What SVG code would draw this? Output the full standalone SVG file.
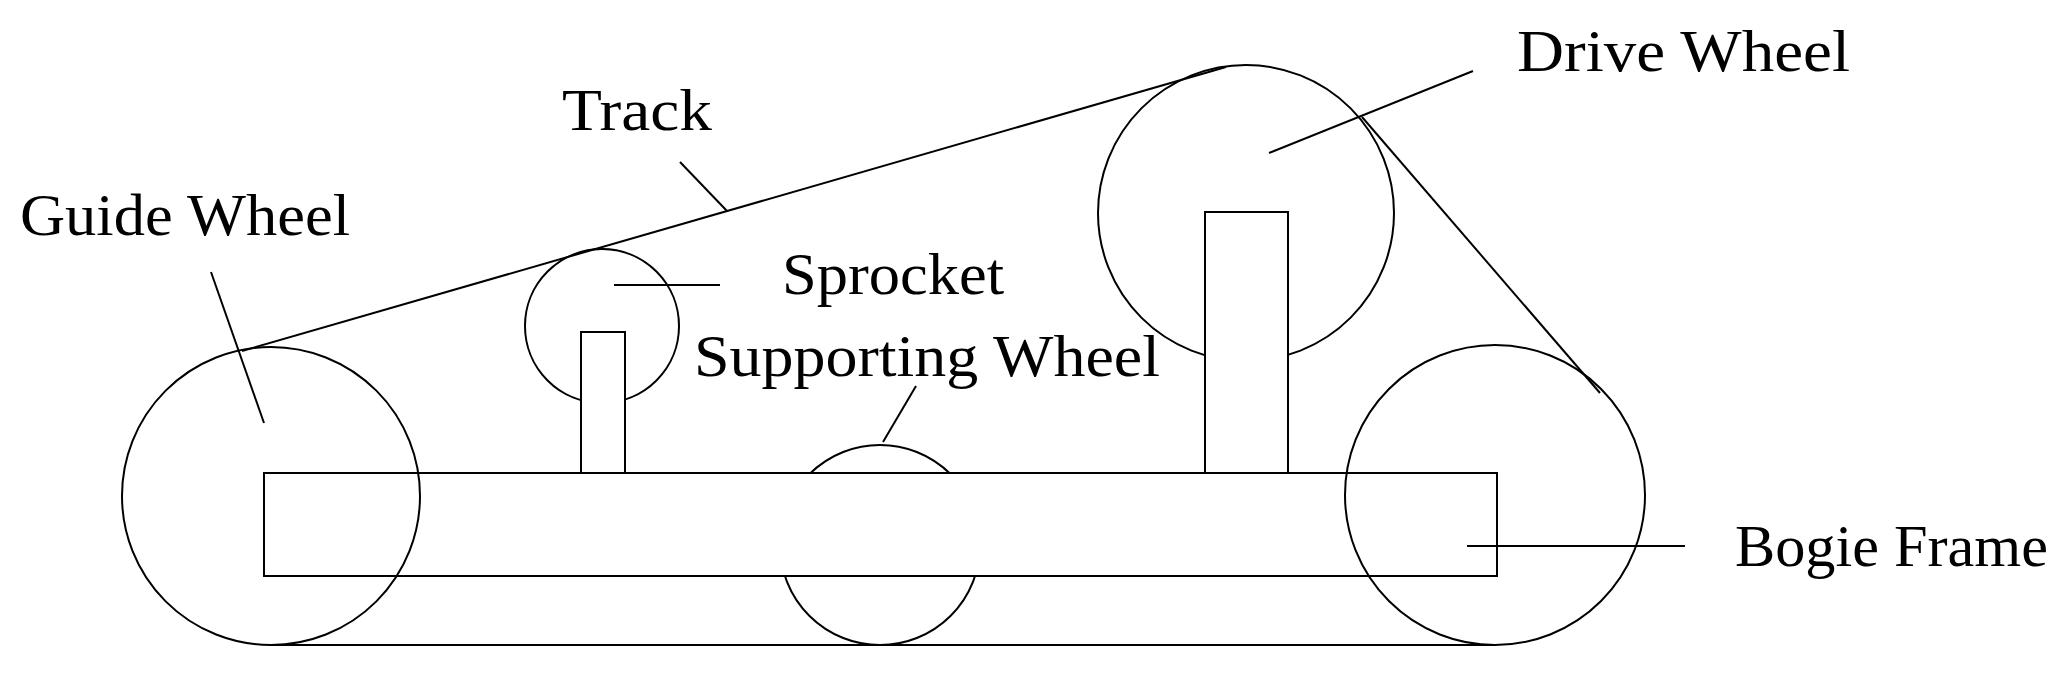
<svg xmlns="http://www.w3.org/2000/svg" width="2072" height="677" viewBox="0 0 2072 677">
<style>
.s{fill:none;stroke:#000;stroke-width:2}
.w{fill:#fff;stroke:#000;stroke-width:2}
text{font-family:"Liberation Serif","DejaVu Serif",serif;font-size:60px;fill:#000}
</style>
<rect width="2072" height="677" fill="#fff"/>
<g id="supporting-wheel"><circle class="w" cx="880" cy="545" r="100"/></g>
<g id="sprocket"><circle class="w" cx="602" cy="326" r="77"/></g>
<g id="drive-wheel"><circle class="w" cx="1246" cy="213" r="148"/></g>
<g id="bogie-frame"><rect class="w" x="264" y="473" width="1233" height="103"/>
<rect class="w" x="581" y="332" width="44" height="141"/>
<rect class="w" x="1205" y="212" width="83" height="261"/></g>
<g id="guide-wheel"><circle class="s" cx="271" cy="496" r="149"/></g>
<g id="rear-wheel"><circle class="s" cx="1495" cy="495" r="150"/></g>
<g id="connectors" class="s">
<line x1="242" y1="351" x2="1226" y2="67"/>
<line x1="1362" y1="117" x2="1600" y2="393"/>
<line x1="271" y1="645" x2="1495" y2="645"/>
<line x1="211" y1="272" x2="264" y2="423"/>
<line x1="680" y1="162" x2="727" y2="211"/>
<line x1="1473" y1="71" x2="1269" y2="153"/>
<line x1="614" y1="285" x2="720" y2="285"/>
<line x1="916" y1="386" x2="883" y2="442"/>
<line x1="1467" y1="546" x2="1685" y2="546"/>
</g>
<g id="labels">
<text x="20" y="235" textLength="330" lengthAdjust="spacingAndGlyphs">Guide Wheel</text>
<text x="562" y="130" textLength="150" lengthAdjust="spacingAndGlyphs">Track</text>
<text x="1517" y="71" textLength="333" lengthAdjust="spacingAndGlyphs">Drive  Wheel</text>
<text x="782" y="294" textLength="222" lengthAdjust="spacingAndGlyphs">Sprocket</text>
<text x="694" y="376" textLength="466" lengthAdjust="spacingAndGlyphs">Supporting Wheel</text>
<text x="1735" y="566" textLength="313" lengthAdjust="spacingAndGlyphs">Bogie Frame</text>
</g>
</svg>
